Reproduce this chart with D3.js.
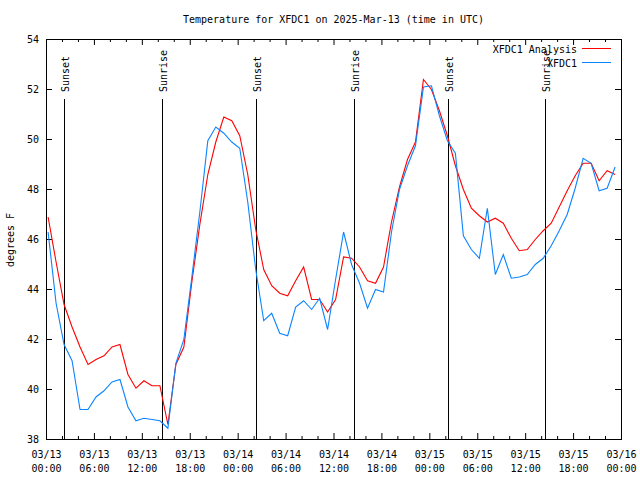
<!DOCTYPE html>
<html>
<head>
<meta charset="utf-8">
<script src="https://cdn.jsdelivr.net/npm/d3@7"></script>
<style>
  body { margin: 0; background: #fff; }
  svg { display: block; }
  text { font-family: "DejaVu Sans Mono", "Liberation Mono", monospace; font-size: 10px; fill: #000; }
</style>
</head>
<body>
<svg id="chart" width="640" height="480"></svg>
<script>
// ---- data ----
const titleText = "Temperature for XFDC1 on 2025-Mar-13 (time in UTC)";
const yLabel = "degrees F";
const seriesNames = ["XFDC1 Analysis", "XFDC1"];
const seriesColors = ["#ff0000", "#0a84ff"];
const startTime = "2025-03-13T00:12:00Z"; // first sample, hourly samples after
const analysis = [46.9,45.1,43.4,42.5,41.7,41.0,41.2,41.35,41.7,41.8,
                  40.6,40.05,40.35,40.15,40.15,38.6,41.0,41.7,44.3,46.6,
                  48.6,49.9,50.9,50.75,50.15,48.6,46.4,44.8,44.15,43.85,
                  43.75,44.35,44.9,43.6,43.6,43.1,43.6,45.3,45.25,44.9,
                  44.35,44.25,44.9,46.7,48.1,49.2,49.9,52.4,52.0,51.15,
                  50.15,48.95,48.0,47.25,46.95,46.7,46.85,46.65,46.05,45.55,
                  45.6,46.0,46.35,46.65,47.3,47.95,48.55,49.05,49.05,48.35,
                  48.75,48.6];
const observed = [46.3,43.45,41.8,41.15,39.2,39.2,39.7,39.95,40.3,40.4,
                  39.3,38.75,38.85,38.8,38.75,38.45,41.05,42.0,44.5,47.1,
                  49.95,50.5,50.25,49.9,49.65,47.5,44.8,42.75,43.05,42.25,
                  42.15,43.3,43.55,43.2,43.65,42.4,44.4,46.3,45.0,44.25,
                  43.25,44.0,43.9,46.3,48.0,48.95,49.75,52.1,52.15,50.95,
                  49.95,49.45,46.15,45.6,45.25,47.25,44.6,45.4,44.45,44.5,
                  44.6,45.0,45.25,45.75,46.35,47.0,48.05,49.25,49.05,47.95,
                  48.05,48.9];
const sunEvents = [
  {label: "Sunset",  time: "2025-03-13T02:15:00Z"},
  {label: "Sunrise", time: "2025-03-13T14:32:00Z"},
  {label: "Sunset",  time: "2025-03-14T02:17:00Z"},
  {label: "Sunrise", time: "2025-03-14T14:31:00Z"},
  {label: "Sunset",  time: "2025-03-15T02:18:00Z"},
  {label: "Sunrise", time: "2025-03-15T14:28:00Z"}
];
const xDomain = ["2025-03-13T00:00:00Z", "2025-03-16T00:00:00Z"];
const yDomain = [38, 54];
const yTicks = [38, 40, 42, 44, 46, 48, 50, 52, 54];

// ---- layout ----
const svg = d3.select("#chart");
const L = 46, R = 621, T = 39, B = 439;

const x = d3.scaleUtc().domain(xDomain.map(d => new Date(d))).range([L, R]);
const y = d3.scaleLinear().domain(yDomain).range([B, T]);

const t0 = new Date(startTime);
const times = analysis.map((_, i) => d3.utcHour.offset(t0, i));

// title
svg.append("text").attr("x", 333.5).attr("y", 23).attr("text-anchor", "middle").text(titleText);

// y label
svg.append("text").attr("transform", "translate(14,240) rotate(-90)")
  .attr("text-anchor", "middle").text(yLabel);

// major/minor x ticks
const majorTicks = d3.utcHour.every(6).range(x.domain()[0], d3.utcHour.offset(x.domain()[1], 1));
const minorTicks = d3.utcHour.every(2).range(x.domain()[0], x.domain()[1]).filter(d => d.getUTCHours() % 6 !== 0);

const fmtDate = d3.utcFormat("%m/%d"), fmtTime = d3.utcFormat("%H:%M");

// bottom axis major
const gxB = svg.append("g").attr("transform", `translate(0,${B})`)
  .call(d3.axisBottom(x).tickValues(majorTicks).tickSize(-6).tickSizeOuter(0).tickPadding(10).tickFormat(""));
gxB.select(".domain").remove();
gxB.selectAll(".tick").each(function(d) {
  const t = d3.select(this).append("text").attr("text-anchor", "middle").attr("fill", "#000");
  t.append("tspan").attr("x", 0).attr("y", 19).text(fmtDate(d));
  t.append("tspan").attr("x", 0).attr("y", 33).text(fmtTime(d));
});
// bottom minor
const gxBm = svg.append("g").attr("transform", `translate(0,${B})`)
  .call(d3.axisBottom(x).tickValues(minorTicks).tickSize(-3).tickSizeOuter(0).tickFormat(""));
gxBm.select(".domain").remove();
// top major + minor
const gxT = svg.append("g").attr("transform", `translate(0,${T})`)
  .call(d3.axisTop(x).tickValues(majorTicks).tickSize(-6).tickSizeOuter(0).tickFormat(""));
gxT.select(".domain").remove();
const gxTm = svg.append("g").attr("transform", `translate(0,${T})`)
  .call(d3.axisTop(x).tickValues(minorTicks).tickSize(-3).tickSizeOuter(0).tickFormat(""));
gxTm.select(".domain").remove();

// y axes
const gyL = svg.append("g").attr("transform", `translate(${L},0)`)
  .call(d3.axisLeft(y).tickValues(yTicks).tickSize(-6).tickSizeOuter(0).tickPadding(7).tickFormat(d3.format("d")));
gyL.select(".domain").remove();
const gyR = svg.append("g").attr("transform", `translate(${R},0)`)
  .call(d3.axisRight(y).tickValues(yTicks).tickSize(-6).tickSizeOuter(0).tickFormat(""));
gyR.select(".domain").remove();

svg.selectAll(".tick line").attr("stroke", "#000");
[gxB, gxBm, gxT, gxTm, gyL, gyR].forEach(g => g.attr("font-family", null).attr("font-size", null));

// border
svg.append("rect").attr("x", L + 0.5).attr("y", T + 0.5).attr("width", R - L).attr("height", B - T)
  .attr("fill", "none").attr("stroke", "#000").attr("stroke-width", 1);

// sunrise / sunset
sunEvents.forEach(ev => {
  const px = Math.round(x(new Date(ev.time))) + 0.5;
  svg.append("line").attr("x1", px).attr("x2", px).attr("y1", 99).attr("y2", B + 0.5)
    .attr("stroke", "#000").attr("stroke-width", 1).attr("shape-rendering", "crispEdges");
  svg.append("text").attr("transform", `translate(${px + 4},92) rotate(-90)`)
    .attr("text-anchor", "start").text(ev.label);
});

// lines
const line = d3.line().x((d, i) => x(times[i]) + 0.5).y(d => y(d) + 0.5);
svg.append("path").datum(analysis).attr("d", line)
  .attr("fill", "none").attr("stroke", seriesColors[0]).attr("stroke-width", 1.1);
svg.append("path").datum(observed).attr("d", line)
  .attr("fill", "none").attr("stroke", seriesColors[1]).attr("stroke-width", 1.1);

// legend
const legY = [48.5, 62.5];
seriesNames.forEach((name, i) => {
  svg.append("text").attr("x", 577).attr("y", legY[i] + 4).attr("text-anchor", "end").text(name);
  svg.append("line").attr("x1", 582).attr("x2", 611).attr("y1", legY[i]).attr("y2", legY[i])
    .attr("stroke", seriesColors[i]).attr("stroke-width", 1);
});
</script>
</body>
</html>
